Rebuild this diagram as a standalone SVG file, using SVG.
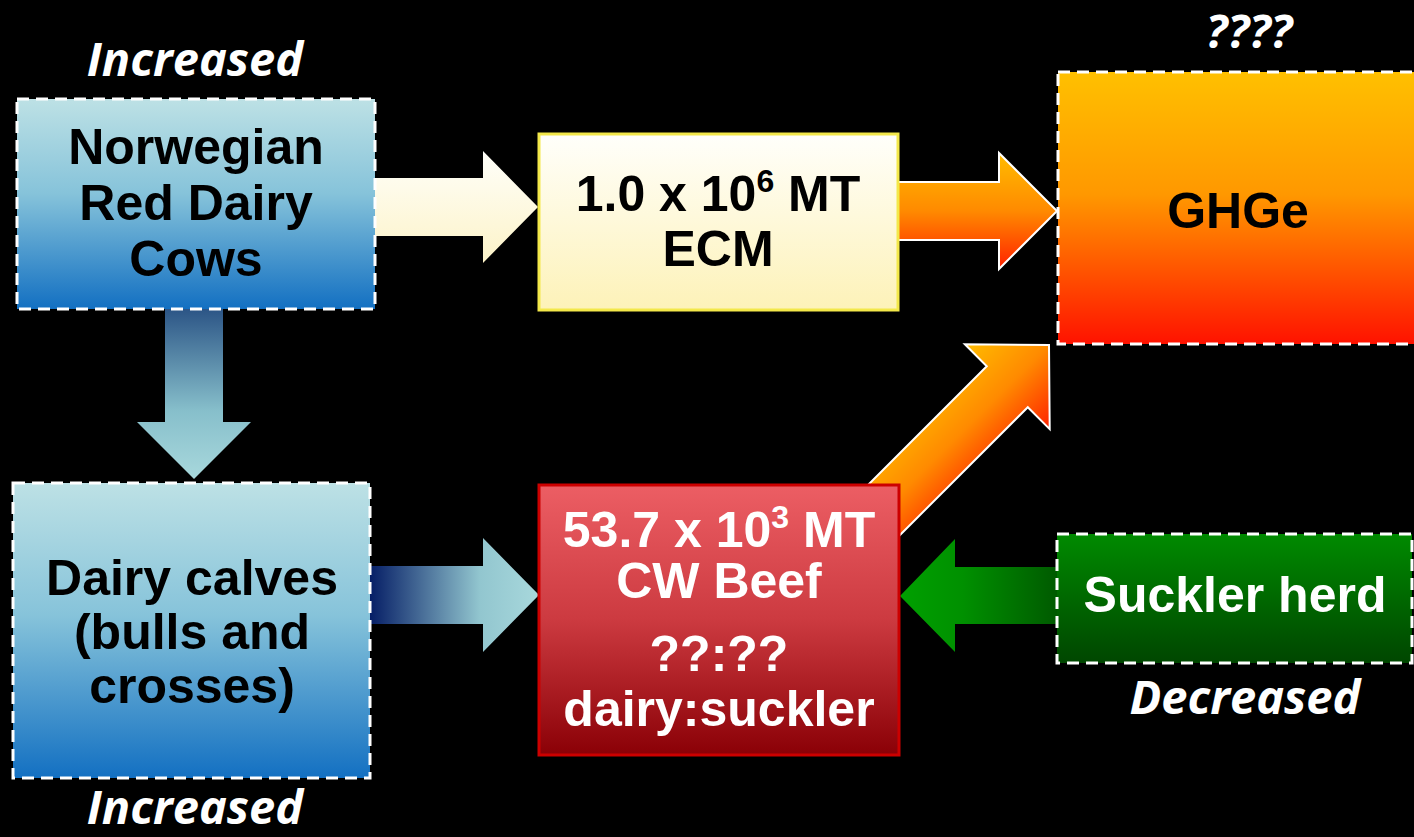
<svg xmlns="http://www.w3.org/2000/svg" width="1414" height="837" viewBox="0 0 1414 837">
  <defs>
    <linearGradient id="gBlueBox" x1="0" y1="0" x2="0" y2="1">
      <stop offset="0" stop-color="#bde1e5"/>
      <stop offset="0.45" stop-color="#86c3da"/>
      <stop offset="1" stop-color="#1370c2"/>
    </linearGradient>
    <linearGradient id="gEcm" x1="0" y1="0" x2="0" y2="1">
      <stop offset="0" stop-color="#fffffb"/>
      <stop offset="1" stop-color="#fdf2b8"/>
    </linearGradient>
    <linearGradient id="gCream" x1="0" y1="0" x2="0" y2="1">
      <stop offset="0" stop-color="#fffffa"/>
      <stop offset="1" stop-color="#fcf3c8"/>
    </linearGradient>
    <linearGradient id="gGhg" x1="0" y1="0" x2="0" y2="1">
      <stop offset="0" stop-color="#ffc000"/>
      <stop offset="0.45" stop-color="#ff9800"/>
      <stop offset="1" stop-color="#ff1200"/>
    </linearGradient>
    <linearGradient id="gOrange" x1="0" y1="0" x2="0" y2="1">
      <stop offset="0" stop-color="#ffbc00"/>
      <stop offset="0.5" stop-color="#ff8a00"/>
      <stop offset="1" stop-color="#ff2200"/>
    </linearGradient>
    <linearGradient id="gBeef" x1="0" y1="0" x2="0" y2="1">
      <stop offset="0" stop-color="#ec5e64"/>
      <stop offset="0.5" stop-color="#cc3a40"/>
      <stop offset="1" stop-color="#8a0006"/>
    </linearGradient>
    <linearGradient id="gGreenBox" x1="0" y1="0" x2="0" y2="1">
      <stop offset="0" stop-color="#008a00"/>
      <stop offset="1" stop-color="#004600"/>
    </linearGradient>
    <linearGradient id="gBlueDown" gradientUnits="userSpaceOnUse" x1="0" y1="309" x2="0" y2="479">
      <stop offset="0" stop-color="#2c5586"/>
      <stop offset="0.6" stop-color="#87bfcb"/>
      <stop offset="1" stop-color="#a8d8dc"/>
    </linearGradient>
    <linearGradient id="gBlueRight" gradientUnits="userSpaceOnUse" x1="370" y1="0" x2="539" y2="0">
      <stop offset="0" stop-color="#061e66"/>
      <stop offset="0.65" stop-color="#92c6cf"/>
      <stop offset="1" stop-color="#a8d8dc"/>
    </linearGradient>
    <linearGradient id="gGreenArrow" gradientUnits="userSpaceOnUse" x1="900" y1="0" x2="1057" y2="0">
      <stop offset="0" stop-color="#00a000"/>
      <stop offset="0.4" stop-color="#009000"/>
      <stop offset="1" stop-color="#005a00"/>
    </linearGradient>
    <style>
      .bold { font-family: "Liberation Sans", Arial, sans-serif; font-weight: bold; font-size: 50px; text-anchor: middle; }
      .dark { fill: #000000; }
      .light { fill: #ffffff; }
      .note { font-family: "Open Sans", "Liberation Sans", sans-serif; font-weight: bold; font-style: italic; font-size: 47px; fill: #ffffff; text-anchor: middle; }
      .dashed { stroke: #ffffff; stroke-width: 3; stroke-dasharray: 12 7; }
      .edge { stroke: #ffffff; stroke-width: 2; stroke-linejoin: miter; }
    </style>
  </defs>

  <rect x="0" y="0" width="1414" height="837" fill="#000000"/>

  <g id="connectors">
    <path id="arrow-cows-ecm" d="M374,178 H483 V151 L538,207 L483,263 V236 H374 Z" fill="url(#gCream)"/>
    <path id="arrow-ecm-ghg" class="edge" d="M898,182 H999 V153 L1057,211 L999,269 V240 H898 Z" fill="url(#gOrange)"/>
    <g transform="translate(1049,345) rotate(-45)">
      <path id="arrow-beef-ghg" class="edge" d="M0,0 L-59,60 L-59,29 L-250,29 L-250,-29 L-59,-29 L-59,-60 Z" fill="url(#gOrange)"/>
    </g>
    <path id="arrow-cows-calves" d="M165,309 V422 H137 L194,479 L251,422 H223 V309 Z" fill="url(#gBlueDown)"/>
    <path id="arrow-calves-beef" d="M370,566 H483 V538 L539,595 L483,652 V624 H370 Z" fill="url(#gBlueRight)"/>
    <path id="arrow-suckler-beef" d="M900,596 L955,539 V567 H1057 V624 H955 V652 Z" fill="url(#gGreenArrow)"/>
  </g>

  <g id="node-cows">
    <rect x="17" y="99" width="358" height="210" fill="url(#gBlueBox)" class="dashed"/>
    <text class="bold dark" x="196" y="164">Norwegian</text>
    <text class="bold dark" x="196" y="220">Red Dairy</text>
    <text class="bold dark" x="196" y="276">Cows</text>
  </g>
  <text id="label-cows" class="note" x="195" y="76">Increased</text>

  <g id="node-calves">
    <rect x="13" y="483" width="357" height="295" fill="url(#gBlueBox)" class="dashed"/>
    <text class="bold dark" x="192" y="595">Dairy calves</text>
    <text class="bold dark" x="192" y="649">(bulls and</text>
    <text class="bold dark" x="192" y="703">crosses)</text>
  </g>
  <text id="label-calves" class="note" x="195" y="824">Increased</text>

  <g id="node-ecm">
    <rect x="539" y="134" width="359" height="176" fill="url(#gEcm)" stroke="#f3e84a" stroke-width="3"/>
    <text class="bold dark" x="718" y="211">1.0 x 10<tspan dy="-19" font-size="32">6</tspan><tspan dy="19"> MT</tspan></text>
    <text class="bold dark" x="718" y="266">ECM</text>
  </g>

  <g id="node-ghge">
    <rect x="1058" y="72" width="362" height="272" fill="url(#gGhg)" class="dashed"/>
    <text class="bold dark" x="1238" y="228">GHGe</text>
  </g>
  <text id="label-ghge" class="note" x="1249" y="48">????</text>

  <g id="node-beef">
    <rect x="539" y="485" width="360" height="270" fill="url(#gBeef)" stroke="#cc0000" stroke-width="3"/>
    <text class="bold light" x="719" y="547">53.7 x 10<tspan dy="-19" font-size="32">3</tspan><tspan dy="19"> MT</tspan></text>
    <text class="bold light" x="719" y="598">CW Beef</text>
    <text class="bold light" x="719" y="671">??:??</text>
    <text class="bold light" x="719" y="726">dairy:suckler</text>
  </g>

  <g id="node-suckler">
    <rect x="1057" y="534" width="355" height="129" fill="url(#gGreenBox)" class="dashed"/>
    <text class="bold light" x="1235" y="612">Suckler herd</text>
  </g>
  <text id="label-suckler" class="note" x="1245" y="714">Decreased</text>
</svg>
